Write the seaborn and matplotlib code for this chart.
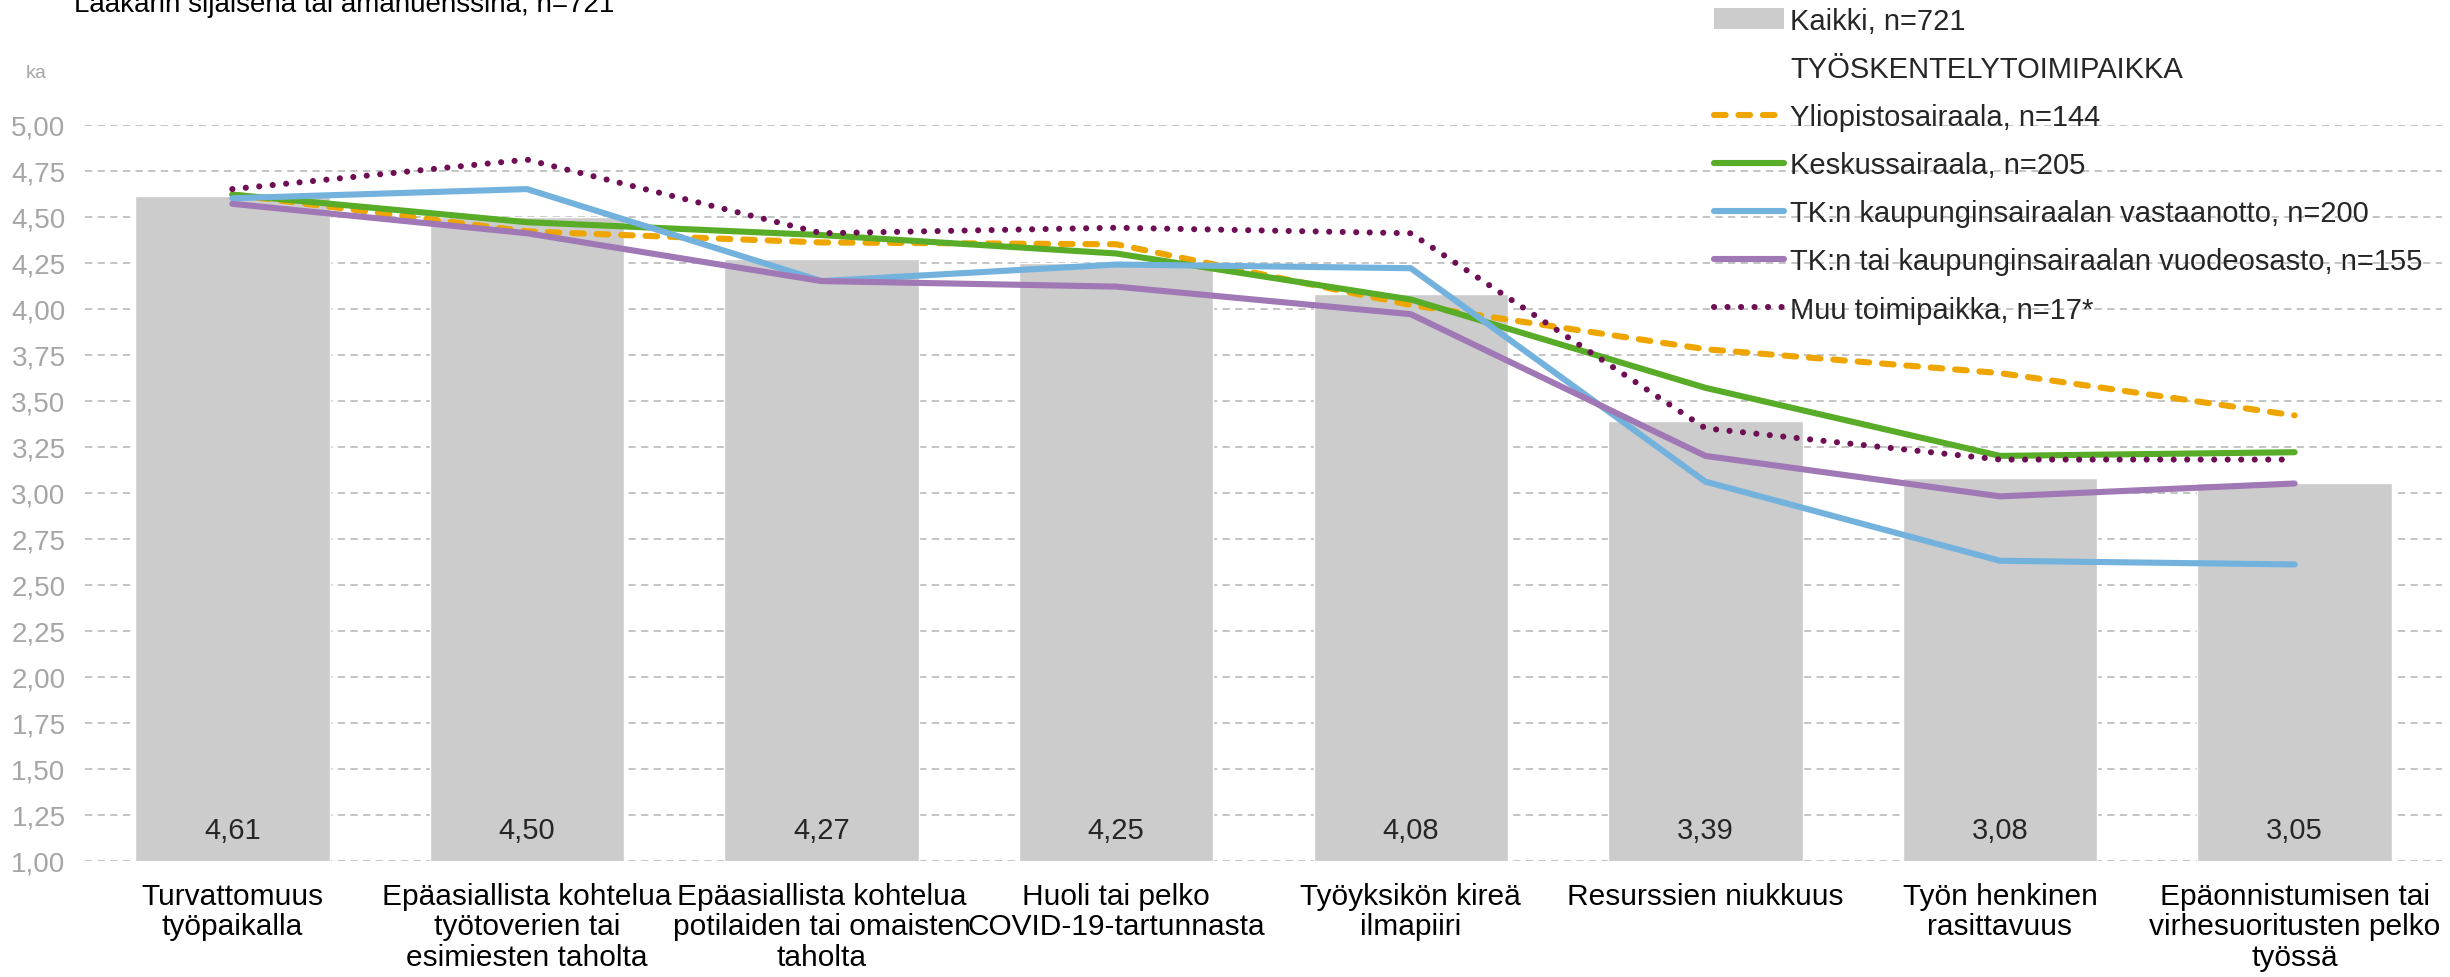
import numpy as np
import pandas as pd
import matplotlib
matplotlib.use("Agg")
import matplotlib.pyplot as plt
from matplotlib.lines import Line2D
from matplotlib.patches import Patch
import seaborn as sns

# Data
categories = [
    "Turvattomuus\ntyöpaikalla",
    "Epäasiallista kohtelua\ntyötoverien tai\nesimiesten taholta",
    "Epäasiallista kohtelua\npotilaiden tai omaisten\ntaholta",
    "Huoli tai pelko\nCOVID-19-tartunnasta",
    "Työyksikön kireä\nilmapiiri",
    "Resurssien niukkuus",
    "Työn henkinen\nrasittavuus",
    "Epäonnistumisen tai\nvirhesuoritusten pelko\ntyössä",
]
kaikki = [4.61, 4.50, 4.27, 4.25, 4.08, 3.39, 3.08, 3.05]
yliopisto = [4.62, 4.42, 4.36, 4.35, 4.02, 3.78, 3.65, 3.42]
keskus = [4.62, 4.47, 4.40, 4.30, 4.05, 3.57, 3.20, 3.22]
tk_vastaanotto = [4.60, 4.65, 4.15, 4.24, 4.22, 3.06, 2.63, 2.61]
tk_vuodeosasto = [4.57, 4.41, 4.15, 4.12, 3.97, 3.20, 2.98, 3.05]
muu = [4.65, 4.81, 4.41, 4.44, 4.41, 3.35, 3.18, 3.18]

group_names = [
    "Yliopistosairaala, n=144",
    "Keskussairaala, n=205",
    "TK:n kaupunginsairaalan vastaanotto, n=200",
    "TK:n tai kaupunginsairaalan vuodeosasto, n=155",
    "Muu toimipaikka, n=17*",
]
group_values = [yliopisto, keskus, tk_vastaanotto, tk_vuodeosasto, muu]
group_colors = ["#EFA500", "#58AC27", "#74B2DE", "#A078B5", "#6E0F55"]
group_dashes = [(1.9, 2.1), None, None, None, (0.01, 2.2)]

yticks = np.arange(1.0, 5.01, 0.25)

sns.set_style("white")
plt.rcParams["font.family"] = ["Liberation Sans", "DejaVu Sans"]

fig = plt.figure(figsize=(24.5, 9.78), dpi=100)
ax = fig.add_axes([0.0347, 0.1189, 0.962, 0.7526])

# Bars: all respondents
bars_df = pd.DataFrame({"kategoria": categories, "ka": kaikki})
sns.barplot(data=bars_df, x="kategoria", y="ka", color="#CCCCCC",
            width=0.66, saturation=1, ax=ax, zorder=2)

# Lines: by workplace
long_df = pd.DataFrame({
    "kategoria": categories * len(group_names),
    "ka": sum(group_values, []),
    "ryhma": np.repeat(group_names, len(categories)),
})
for name, color, dash in zip(group_names, group_colors, group_dashes):
    sub = long_df[long_df["ryhma"] == name]
    sns.lineplot(data=sub, x="kategoria", y="ka", color=color, lw=4.4,
                 sort=False, ax=ax, zorder=3)
    line = ax.lines[-1]
    line.set_solid_capstyle("round")
    line.set_dash_capstyle("round")
    line.set_solid_joinstyle("round")
    if dash is not None:
        line.set_dashes(dash)

# Value labels inside bars
for i, v in enumerate(kaikki):
    ax.text(i, 1.167, f"{v:.2f}".replace(".", ","), ha="center", va="center",
            fontsize=21, color="#262626", zorder=4)

ax.set_ylim(1.0, 5.0)
ax.set_xlim(-0.5, len(categories) - 0.5)
ax.set_yticks(yticks)
ax.set_yticklabels([f"{t:.2f}".replace(".", ",") for t in yticks],
                   fontsize=20, color="#A6A6A6")
ax.tick_params(axis="x", labelsize=21.5, colors="black", length=0, pad=15)
ax.tick_params(axis="y", length=0, pad=14)
ax.set_xlabel("")
ax.set_ylabel("")
for lbl in ax.get_xticklabels():
    lbl.set_linespacing(1.12)
ax.yaxis.grid(True, color="#BFBFBF", linestyle=(0, (4, 3)), lw=1.3, zorder=0)
ax.xaxis.grid(False)
ax.set_axisbelow(True)
sns.despine(ax=ax, left=True, bottom=True)

# Title and y unit
fig.text(0.03, 0.995, "Lääkärin sijaisena tai amanuenssina, n=721",
         fontsize=20, ha="left", va="center", color="black")
fig.text(0.0105, 0.925, "ka", fontsize=14, color="#A6A6A6", ha="left", va="center")

# Legend
handles = [Patch(facecolor="#CCCCCC", edgecolor="none"),
           Line2D([], [], color="none")]
labels = ["Kaikki, n=721", "TYÖSKENTELYTOIMIPAIKKA"]
for name, color, dash in zip(group_names, group_colors, group_dashes):
    h = Line2D([], [], color=color, lw=4.4, solid_capstyle="round",
               dash_capstyle="round")
    if dash is not None:
        h.set_dashes(dash)
    handles.append(h)
    labels.append(name)
leg = fig.legend(handles, labels, loc="upper left",
                 bbox_to_anchor=(0.695, 1.004), frameon=False, fontsize=21,
                 handlelength=2.4, handletextpad=0.2, labelspacing=0.69,
                 borderaxespad=0)
for t in leg.get_texts():
    t.set_color("#262626")

fig.savefig("out.png", dpi=100)
